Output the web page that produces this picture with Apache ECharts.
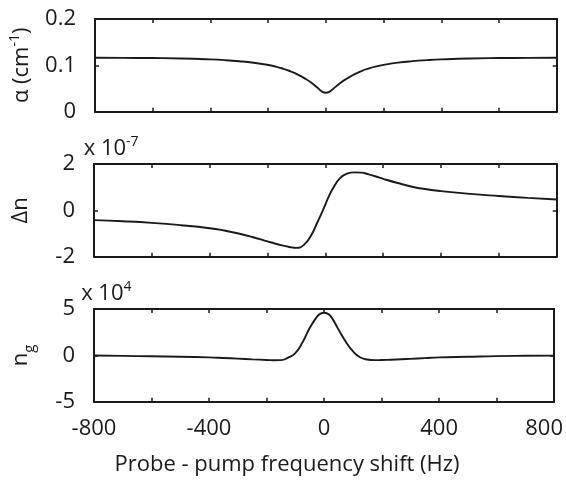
<!DOCTYPE html>
<html>
<head>
<meta charset="utf-8">
<script src="https://cdn.jsdelivr.net/npm/echarts@6/dist/echarts.min.js"></script>
<style>
html,body{margin:0;padding:0;background:#fff;}
#c{width:566px;height:489px;}
</style>
</head>
<body>
<div id="c"></div>
<script>
// Frequency shift (Hz)
var freq = [-800,-700,-600,-500,-400,-350,-300,-250,-200,-175,-150,-125,-100,-75,-50,-25,-12,0,12,25,50,75,100,125,150,175,200,250,300,350,400,500,600,700,800];
// Absorption alpha (cm^-1)
var alpha = [0.1165,0.1162,0.1157,0.1148,0.1128,0.1112,0.1088,0.1055,0.1008,0.0975,0.0932,0.0878,0.0810,0.0725,0.0625,0.0495,0.0428,0.0408,0.0428,0.0492,0.0618,0.0722,0.0812,0.0882,0.0935,0.0978,0.1010,0.1058,0.1090,0.1112,0.1128,0.1148,0.1157,0.1162,0.1165];
// Refractive index change (x 1e-7)
var deltaN = [-0.42,-0.47,-0.54,-0.64,-0.77,-0.87,-1.0,-1.16,-1.34,-1.43,-1.51,-1.58,-1.62,-1.5,-1.1,-0.45,-0.1,0.25,0.6,0.92,1.38,1.58,1.64,1.63,1.55,1.46,1.36,1.18,1.02,0.91,0.83,0.71,0.62,0.54,0.47];
// Group index (x 1e4)
var groupIndex = [-0.02,-0.06,-0.1,-0.15,-0.22,-0.28,-0.35,-0.43,-0.5,-0.53,-0.52,-0.25,0.25,1.4,2.95,4.15,4.5,4.6,4.5,4.15,2.8,1.5,0.45,-0.2,-0.45,-0.52,-0.5,-0.45,-0.38,-0.3,-0.22,-0.15,-0.08,-0.05,-0.03];
var xTickLabels = [-800,-400,0,400,800];

var FONT = 'Open Sans';
var FS = 22;
var ink = '#1a1a1a';

function pairs(ys){ return freq.map(function(f,i){ return [f, ys[i]]; }); }

var grids = [
  {left:94, right:9.3, top:19, height:92.7},
  {left:94, right:9.3, top:164, height:92.7},
  {left:94, right:9.3, top:309, height:92.7}
];

var xAxes = [], yAxes = [];
var yCfg = [
  {min:0, max:0.2, interval:0.1, name:'{n|α (cm}{s|-1}{n|)}'},
  {min:-2, max:2, interval:2, name:'{n|Δn}', top:'{n|x 10}{s|-7}'},
  {min:-5, max:5, interval:5, name:'{n|n}{b|g}', top:'{n|x 10}{s|4}'}
];
var rich = {
  n:{fontFamily:FONT, fontSize:FS, color:ink, lineHeight:27},
  s:{fontFamily:FONT, fontSize:14, color:ink, verticalAlign:'top'},
  b:{fontFamily:FONT, fontSize:15, color:ink, verticalAlign:'bottom', lineHeight:15, padding:[0,0,-3,0]}
};
for (var g=0; g<3; g++){
  var isLast = g===2;
  xAxes.push({
    type:'value', gridIndex:g, position:'bottom', min:-800, max:800, interval:200,
    axisLine:{show:true, onZero:false, lineStyle:{color:ink, width:2}},
    axisTick:{show:true, inside:true, length:4, lineStyle:{color:ink, width:1.5}},
    axisLabel:{show:isLast, margin:16, fontFamily:FONT, fontSize:FS, color:ink,
      formatter:function(v){
        if (xTickLabels.indexOf(v) < 0) return '';
        if (v === 800) return '{r|' + v + '}';
        return String(v);
      },
      rich:{r:{fontFamily:FONT, fontSize:FS, color:ink, padding:[0,20,0,0]}}
    },
    splitLine:{show:false},
    name: isLast ? 'Probe - pump frequency shift (Hz)' : '',
    nameLocation:'middle', nameGap:52,
    nameTextStyle:{fontFamily:FONT, fontSize:FS, color:ink, padding:[0,74,0,0]}
  });
  xAxes.push({
    type:'value', gridIndex:g, position:'top', min:-800, max:800, interval:200,
    axisLine:{show:true, onZero:false, lineStyle:{color:ink, width:2}},
    axisTick:{show:true, inside:true, length:4, lineStyle:{color:ink, width:1.5}},
    axisLabel:{show:false}, splitLine:{show:false}
  });
  var c = yCfg[g];
  yAxes.push({
    type:'value', gridIndex:g, position:'left', min:c.min, max:c.max, interval:c.interval,
    axisLine:{show:true, onZero:false, lineStyle:{color:ink, width:2}},
    axisTick:{show:true, inside:true, length:4, lineStyle:{color:ink, width:1.5}},
    axisLabel:{show:true, margin:19, fontFamily:FONT, fontSize:FS, color:ink},
    splitLine:{show:false},
    name:c.name, nameLocation:'middle', nameGap:60, nameRotate:90,
    nameTextStyle:{rich:rich}
  });
  yAxes.push({
    type:'value', gridIndex:g, position:'right', min:c.min, max:c.max, interval:c.interval,
    axisLine:{show:true, onZero:false, lineStyle:{color:ink, width:2}},
    axisTick:{show:true, inside:true, length:4, lineStyle:{color:ink, width:1.5}},
    axisLabel:{show:false}, splitLine:{show:false},
    name:c.top || '', nameLocation:'end', nameGap:2,
    nameTextStyle:{rich:rich, align:'left', padding:[0,0,0,-473]}
  });
}

var chart = echarts.init(document.getElementById('c'), null, {renderer:'canvas'});
chart.setOption({
  backgroundColor:'#fff',
  animation:false,
  grid:grids,
  xAxis:xAxes,
  yAxis:yAxes,
  series:[
    {type:'line', xAxisIndex:0, yAxisIndex:0, data:pairs(alpha), smooth:true, showSymbol:false, lineStyle:{color:ink, width:1.9}},
    {type:'line', xAxisIndex:2, yAxisIndex:2, data:pairs(deltaN), smooth:true, showSymbol:false, lineStyle:{color:ink, width:1.9}},
    {type:'line', xAxisIndex:4, yAxisIndex:4, data:pairs(groupIndex), smooth:true, showSymbol:false, lineStyle:{color:ink, width:1.9}}
  ]
});
</script>
</body>
</html>
